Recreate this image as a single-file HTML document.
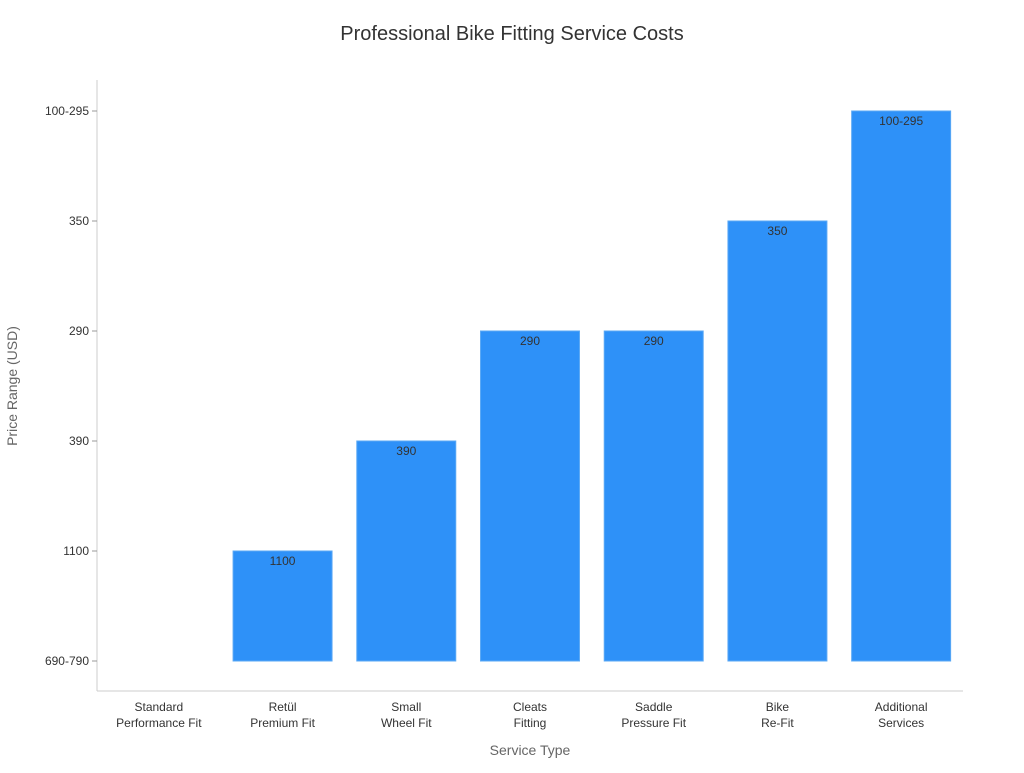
<!DOCTYPE html>
<html><head><meta charset="utf-8"><style>
body{margin:0;background:#fff;font-family:"Liberation Sans","DejaVu Sans",sans-serif;}
</style></head><body>
<svg id="chart" width="1024" height="768" xmlns="http://www.w3.org/2000/svg" font-family="Liberation Sans, DejaVu Sans, sans-serif">
<text x="512" y="40" text-anchor="middle" font-size="20" fill="#333">Professional Bike Fitting Service Costs</text>
<g id="axes"></g><g id="bars"></g>
<text x="530" y="755" text-anchor="middle" font-size="14" fill="#666">Service Type</text>
<text transform="translate(17,386) rotate(-90)" text-anchor="middle" font-size="14" fill="#666">Price Range (USD)</text>
</svg>
<script>
const categories=[["Standard","Performance Fit"],["Retül","Premium Fit"],["Small","Wheel Fit"],["Cleats","Fitting"],["Saddle","Pressure Fit"],["Bike","Re-Fit"],["Additional","Services"]];
const yTickLabels=["690-790","1100","390","290","350","100-295"];
const values=[0,1,2,3,3,4,5];
const valueLabels=["","1100","390","290","290","350","100-295"];
const NS="http://www.w3.org/2000/svg";
const L=97,R=963,T=80,B=691;
const band=(R-L)/categories.length;
const xc=i=>L+band*(i+0.5);
const y=v=>661-v*110;
function mk(t,a,p){const e=document.createElementNS(NS,t);for(const k in a)e.setAttribute(k,a[k]);p.appendChild(e);return e;}
const ax=document.getElementById('axes'),bg=document.getElementById('bars');
const yl=mk('line',{x1:L,y1:T,x2:L,y2:B,stroke:'#ccc'},ax);


const xl=mk('line',{x1:L,y1:B,x2:R,y2:B,stroke:'#ccc'},ax);


yTickLabels.forEach((s,i)=>{
 mk('line',{x1:L-5,y1:y(i),x2:L,y2:y(i),stroke:'#999'},ax);
 const t=mk('text',{x:L-8,y:y(i)+4,'text-anchor':'end','font-size':12,fill:'#333'},ax);
 t.textContent=s;
 
 
});
categories.forEach((c,i)=>{
 const t=mk('text',{x:xc(i),y:711,'text-anchor':'middle','font-size':12,fill:'#333'},ax);
 
 
 c.forEach((ln,j)=>{const s=mk('tspan',{x:xc(i),dy:j?16:0},t);s.textContent=ln;});
 const v=values[i];
 if(v>0){
  const w=band*0.8;
  const r=mk('rect',{x:xc(i)-w/2,y:y(v),width:w,height:y(0)-y(v),fill:'#2e91f8',stroke:'#5aa8f5','stroke-width':1},bg);
  
  
  const lt=mk('text',{x:xc(i),y:y(v)+14,'text-anchor':'middle','font-size':12,fill:'#333'},bg);
  lt.textContent=valueLabels[i];
  
  
 }
});
</script>
</body></html>
